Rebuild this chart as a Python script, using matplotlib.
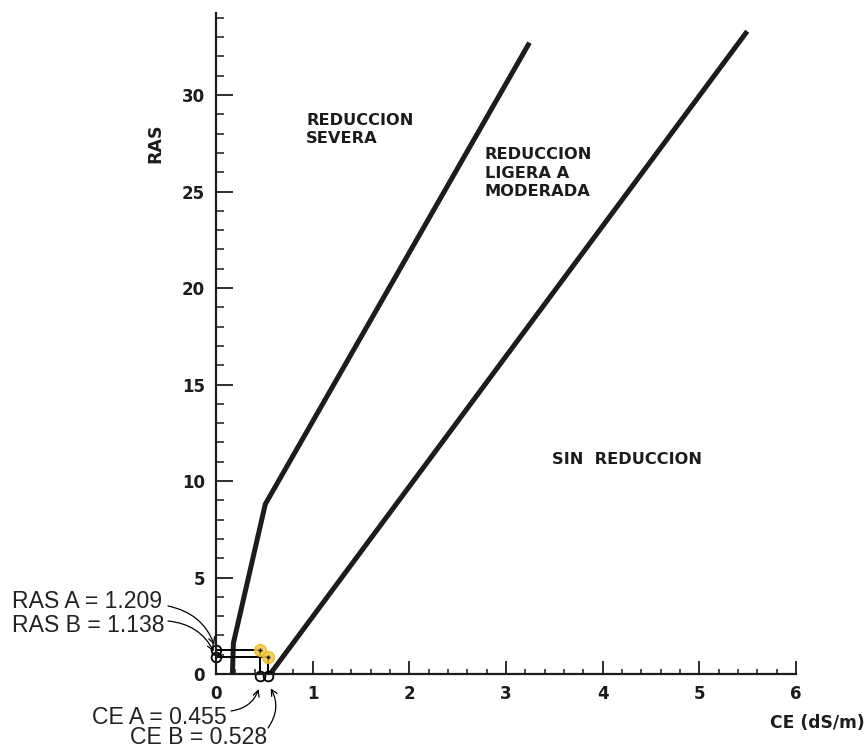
import numpy as np
import matplotlib
matplotlib.use("Agg")
import matplotlib.pyplot as plt

# limit lines (CE in dS/m, RAS)
severa_ce = [0.17, 0.18, 0.51, 3.23]
severa_ras = [0.0, 1.6, 8.8, 32.6]
ligera_ce = [0.56, 5.48]
ligera_ras = [0.0, 33.2]

# sample points A and B (drawn positions) and their labels
punto_ce = [0.455, 0.535]
punto_ras = [1.24, 0.90]
etiquetas_ras = ["RAS A = 1.209", "RAS B = 1.138"]
etiquetas_ce = ["CE A = 0.455", "CE B = 0.528"]

W, H = 867, 748
fig = plt.figure(figsize=(W / 100, H / 100), dpi=100)
ax = fig.add_axes([216 / W, 1 - 674 / H, 580 / W, 661 / H])

negro = "#1c1c1c"
ax.plot(severa_ce, severa_ras, color=negro, lw=3.6, solid_joinstyle="round")
ax.plot(ligera_ce, ligera_ras, color=negro, lw=3.6)

# guide lines from the axes to the points
for ce, ras in zip(punto_ce, punto_ras):
    ax.plot([0, ce], [ras, ras], color="black", lw=1.4, clip_on=False)
    ax.plot([ce, ce], [ras, 0], color="black", lw=1.4, clip_on=False)
    ax.plot(0, ras, "o", ms=7, mfc="none", mec="black", mew=1.3, clip_on=False)
    ax.plot(ce, -0.1, "o", ms=7, mfc="none", mec="black", mew=1.3, clip_on=False)
    ax.plot(ce, ras, "o", ms=8.5, mfc="#f3c845", mec="#e8b820", alpha=0.85, clip_on=False, zorder=4)
    ax.plot(ce, ras, "+", ms=3, color="black", mew=1, zorder=5)

ax.set_xlim(0, 6)
ax.set_ylim(0, 34.25)
ax.set_xticks(range(7))
ax.set_xticks(np.arange(0, 6.01, 0.2), minor=True)
ax.set_yticks(range(0, 31, 5))
ax.set_yticks(range(0, 35), minor=True)

for s in ["top", "right"]:
    ax.spines[s].set_visible(False)
for s in ["left", "bottom"]:
    ax.spines[s].set_linewidth(1.6)
    ax.spines[s].set_color(negro)

ax.tick_params(axis="x", which="major", direction="in", length=9.5, width=1.3, pad=8, colors=negro)
ax.tick_params(axis="x", which="minor", direction="in", length=3.8, width=1.1, colors=negro)
ax.tick_params(axis="y", which="major", direction="in", length=12, width=1.3, pad=8, colors=negro)
ax.tick_params(axis="y", which="minor", direction="in", length=5.5, width=1.1, colors=negro)
for lab in ax.get_xticklabels() + ax.get_yticklabels():
    lab.set_fontweight("bold")
    lab.set_fontsize(12)
    lab.set_family("DejaVu Sans")

# axis titles
fig.text(155 / W, 1 - 143 / H, "RAS", rotation=90, ha="center", va="center",
         fontsize=12.5, fontweight="bold", color=negro)
fig.text(817 / W, 1 - 723 / H, "CE (dS/m)", ha="center", va="center",
         fontsize=12.3, fontweight="bold", color=negro)

# zone labels
zona = dict(fontsize=11.7, fontweight="bold", color=negro, ha="left", va="center",
            linespacing=1.3)
fig.text(306 / W, 1 - 129.5 / H, "REDUCCION\nSEVERA", **zona)
fig.text(485 / W, 1 - 173 / H, "REDUCCION\nLIGERA A\nMODERADA", **zona)
fig.text(552 / W, 1 - 460 / H, "SIN  REDUCCION", **zona)

# annotations
nota = dict(fontsize=16.6, family="Liberation Sans", color="#222222", ha="left", va="center")
fig.text(12 / W, 1 - 602 / H, etiquetas_ras[0], **nota)
fig.text(12 / W, 1 - 626 / H, etiquetas_ras[1], **nota)
fig.text(92 / W, 1 - 717 / H, etiquetas_ce[0], **nota)
fig.text(130 / W, 1 - 738 / H, etiquetas_ce[1], **nota)

flecha = dict(arrowstyle="->", lw=0.9, color="black", mutation_scale=11, shrinkA=0, shrinkB=4)
inicios_ras = [(168, 606), (168, 621)]
for (px, py), ras in zip(inicios_ras, punto_ras):
    ax.annotate("", xy=(0, ras), xytext=(px, H - py), textcoords="figure pixels",
                arrowprops=dict(connectionstyle="arc3,rad=-0.3", **flecha), annotation_clip=False)
inicios_ce = [((231, 711), 0.35), ((268, 728), 0.35)]
for ((px, py), rad), ce in zip(inicios_ce, punto_ce):
    ax.annotate("", xy=(ce, -0.5), xytext=(px, H - py), textcoords="figure pixels",
                arrowprops=dict(connectionstyle=f"arc3,rad={rad}", **flecha), annotation_clip=False)

fig.savefig("out.png", dpi=100)
